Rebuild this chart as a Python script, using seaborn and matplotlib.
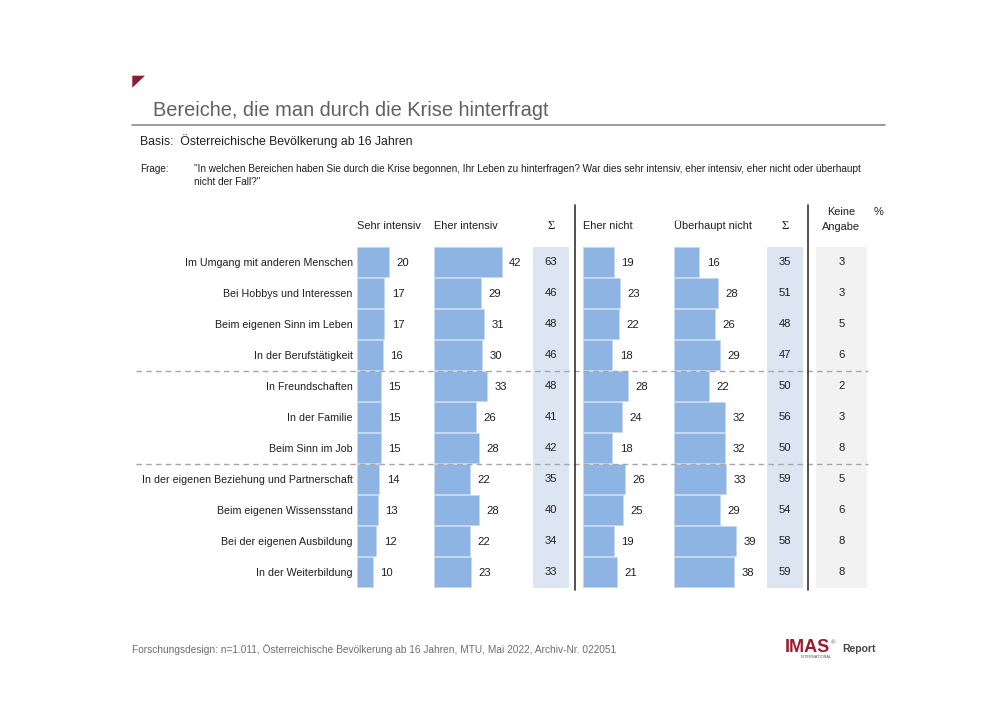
import numpy as np
import pandas as pd
import matplotlib
matplotlib.use("Agg")
import matplotlib.pyplot as plt
import seaborn as sns
from matplotlib.patches import Polygon

# --- Daten ---
categories = [
    "Im Umgang mit anderen Menschen",
    "Bei Hobbys und Interessen",
    "Beim eigenen Sinn im Leben",
    "In der Berufstätigkeit",
    "In Freundschaften",
    "In der Familie",
    "Beim Sinn im Job",
    "In der eigenen Beziehung und Partnerschaft",
    "Beim eigenen Wissensstand",
    "Bei der eigenen Ausbildung",
    "In der Weiterbildung",
]
sehr_intensiv = [20, 17, 17, 16, 15, 15, 15, 14, 13, 12, 10]
eher_intensiv = [42, 29, 31, 30, 33, 26, 28, 22, 28, 22, 23]
summe_intensiv = [63, 46, 48, 46, 48, 41, 42, 35, 40, 34, 33]
eher_nicht = [19, 23, 22, 18, 28, 24, 18, 26, 25, 19, 21]
ueberhaupt_nicht = [16, 28, 26, 29, 22, 32, 32, 33, 29, 39, 38]
summe_nicht = [35, 51, 48, 47, 50, 56, 50, 59, 54, 58, 59]
keine_angabe = [3, 3, 5, 6, 2, 3, 8, 5, 6, 8, 8]

# Gruppengrenzen (nach Zeile 4 und 7)
group_breaks = [3.5, 6.5]

# --- Layout (Pixel) ---
W, H = 1000, 707
ROW_TOP, ROW_BOTTOM = 246.7, 587.7
PX_PER_UNIT = 1.6
BAR = "#8db4e2"
SUM_BG = "#dce6f2"
NA_BG = "#f2f2f2"
TXT = "#1f1f1f"
VAL_SIZE = 8.1

sns.set_theme(style="white")
plt.rcParams['font.family'] = ['Liberation Sans', 'DejaVu Sans']

fig = plt.figure(figsize=(W / 100, H / 100), dpi=100)

# Hintergrund-Achse in Pixelkoordinaten
bg = fig.add_axes([0, 0, 1, 1], zorder=0)
bg.set_xlim(0, W)
bg.set_ylim(H, 0)
bg.axis('off')


def col_axes(x0, x1, z=1):
    ax = fig.add_axes([x0 / W, 1 - ROW_BOTTOM / H, (x1 - x0) / W,
                       (ROW_BOTTOM - ROW_TOP) / H], zorder=z)
    ax.patch.set_alpha(0)
    return ax


def fix_axes(ax, x0, x1, keep_labels=False):
    ax.set_xlim(0, (x1 - x0) / PX_PER_UNIT)
    ax.set_ylim(len(categories) - 0.5, -0.5)
    if keep_labels:
        sns.despine(ax=ax, left=True, bottom=True)
        ax.set_xticks([])
        ax.set_xlabel('')
        ax.set_ylabel('')
        ax.tick_params(axis='y', length=0, pad=3, labelsize=7.7, labelcolor=TXT)
    else:
        ax.axis('off')


def bar_column(x0, x1, values, labels=False):
    ax = col_axes(x0, x1)
    df = pd.DataFrame({'Bereich': categories, 'Wert': values})
    sns.barplot(data=df, x='Wert', y='Bereich', orient='h', color=BAR,
                saturation=1, width=0.97, edgecolor='#c5d8f0', linewidth=0.6, ax=ax)
    fix_axes(ax, x0, x1, keep_labels=labels)
    for i, v in enumerate(values):
        ax.text(v + 7.5 / PX_PER_UNIT, i + 0.04, str(v), va='center', ha='left',
                fontsize=VAL_SIZE, color=TXT)
    return ax


def sum_column(x0, x1, values, face):
    ax = col_axes(x0, x1)
    xmax = (x1 - x0) / PX_PER_UNIT
    ax.axvspan(0, xmax, color=face, lw=0)
    fix_axes(ax, x0, x1)
    for i, v in enumerate(values):
        ax.text(xmax / 2, i, str(v), va='center', ha='center',
                fontsize=VAL_SIZE, color=TXT)
    return ax


bar_column(357, 430, sehr_intensiv, labels=True)
bar_column(434.3, 530, eher_intensiv)
sum_column(532.7, 569.3, summe_intensiv, SUM_BG)
bar_column(583.3, 665, eher_nicht)
bar_column(673.5, 764, ueberhaupt_nicht)
sum_column(766.7, 803.3, summe_nicht, SUM_BG)
sum_column(816, 866.7, keine_angabe, NA_BG)

# Vordergrund: Trennlinien
fg = fig.add_axes([0, 0, 1, 1], zorder=3)
fg.patch.set_alpha(0)
fg.set_xlim(0, W)
fg.set_ylim(H, 0)
fg.axis('off')
row_h = (ROW_BOTTOM - ROW_TOP) / len(categories)
for b in group_breaks:
    y = ROW_TOP + (b + 0.5) * row_h
    fg.plot([136, 868], [y, y], color='#a6a6a6', lw=1, dashes=(4, 3))
for x in (575, 808.3):
    fg.plot([x, x], [205, 590], color='#333333', lw=1.2)

# Kopfbereich
bg.add_patch(Polygon([[132.3, 75.7], [145, 75.7], [132.3, 87.7]],
                     closed=True, color='#8c1c32', lw=0))
bg.text(153, 110, "Bereiche, die man durch die Krise hinterfragt",
        fontsize=14.4, color='#606060', va='center', ha='left')
bg.plot([132, 885], [125, 125], color='#8a8a8a', lw=1.2)
bg.text(140, 141, "Basis:  Österreichische Bevölkerung ab 16 Jahren",
        fontsize=8.8, color=TXT, va='center', ha='left')
bg.text(140, 169, "Frage:", fontsize=7.2, color=TXT, va='center', ha='left')
bg.text(194, 169, "\"In welchen Bereichen haben Sie durch die Krise begonnen, Ihr Leben zu "
        "hinterfragen? War dies sehr intensiv, eher intensiv, eher nicht oder überhaupt",
        fontsize=7.2, color=TXT, va='center', ha='left')
bg.text(194, 182, "nicht der Fall?\"", fontsize=7.2, color=TXT, va='center', ha='left')

# Spaltenköpfe
hdr = dict(fontsize=7.9, color=TXT, va='center')
bg.text(357, 226, "Sehr intensiv", ha='left', **hdr)
bg.text(434.3, 226, "Eher intensiv", ha='left', **hdr)
bg.text(551, 226, "Σ", ha='center', fontsize=9, color=TXT, va='center',
        family=['Liberation Serif', 'DejaVu Serif'])
bg.text(583.3, 226, "Eher nicht", ha='left', **hdr)
bg.text(673.5, 226, "Überhaupt nicht", ha='left', **hdr)
bg.text(785, 226, "Σ", ha='center', fontsize=9, color=TXT, va='center',
        family=['Liberation Serif', 'DejaVu Serif'])
bg.text(841, 212, "Keine", ha='center', **hdr)
bg.text(841, 227, "Angabe", ha='center', **hdr)
bg.text(879, 212, "%", ha='center', **hdr)

# Fußzeile
bg.text(132, 650, "Forschungsdesign: n=1.011, Österreichische Bevölkerung ab 16 Jahren, "
        "MTU, Mai 2022, Archiv-Nr. 022051", fontsize=7.25, color='#6e6e6e',
        va='center', ha='left')
bg.text(785, 648, "IMAS", fontsize=13, fontweight='bold', color='#9b1b30',
        va='center', ha='left')
bg.text(831, 643, "®", fontsize=4.5, color='#555555', va='center', ha='left')
bg.text(801, 657.5, "INTERNATIONAL", fontsize=2.8, color='#555555',
        va='center', ha='left')
bg.text(842, 649, "Report", fontsize=7.5, fontweight='bold', color='#444444',
        va='center', ha='left')

fig.savefig("out.png", dpi=100)
